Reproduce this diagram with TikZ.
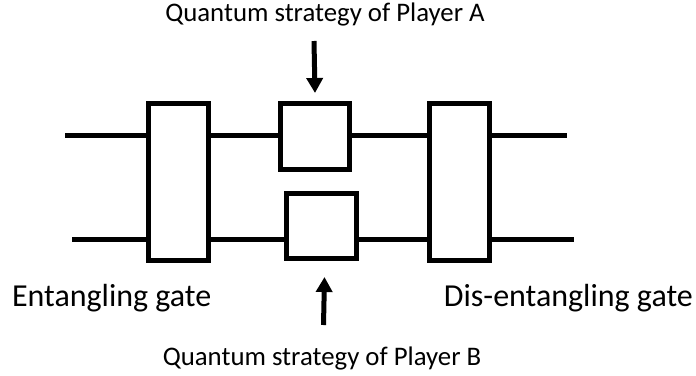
\documentclass[tikz,border=0pt]{standalone}
\usepackage{fontspec}
\setmainfont{Carlito}
\usetikzlibrary{arrows.meta}
\begin{document}
\begin{tikzpicture}[x=1pt,y=-1pt,
    gatebox/.style ={rectangle, draw, line width=5pt, inner sep=0pt, fill=white},
    wire/.style ={line width=5pt},
    strategy/.style ={-{Triangle[length=15pt,width=16pt]}, line width=5pt},
    caption/.style ={anchor=base, inner sep=0pt, font=\fontsize{26.8}{30}\selectfont},
    gatename/.style ={anchor=base, inner sep=0pt, font=\fontsize{32}{36}\selectfont}]
   \useasboundingbox (0,0) rectangle (696,375);
   \coordinate (L1) at (65,135.7);
   \coordinate (R1) at (566.7,135.7);
   \coordinate (L2) at (72.3,239.3);
   \coordinate (R2) at (574.3,239.3);
   \draw[wire] (L1) to (R1);
   \draw[wire] (L2) to (R2);
   \node[gatebox, minimum width=60pt, minimum height=157pt] (entangle) at (178,182) {};
   \node[gatebox, minimum width=69pt, minimum height=65.7pt] (stratA) at (315,136.3) {};
   \node[gatebox, minimum width=70pt, minimum height=65pt] (stratB) at (321.5,226) {};
   \node[gatebox, minimum width=60pt, minimum height=157pt] (disentangle) at (459,182) {};
   \coordinate (topA) at (314,41);
   \coordinate (tipA) at (315,93);
   \coordinate (botB) at (323.5,325);
   \coordinate (tipB) at (324.5,277);
   \draw[strategy] (topA) to (tipA);
   \draw[strategy] (botB) to (tipB);
   \node[caption] (capA) at (325,21) {Quantum strategy of Player A};
   \node[caption] (capB) at (322,365) {Quantum strategy of Player B};
   \node[gatename] (nameE) at (111.7,306.7) {Entangling gate};
   \node[gatename] (nameD) at (568.4,306.7) {Dis-entangling gate};
 \end{tikzpicture}
\end{document}
